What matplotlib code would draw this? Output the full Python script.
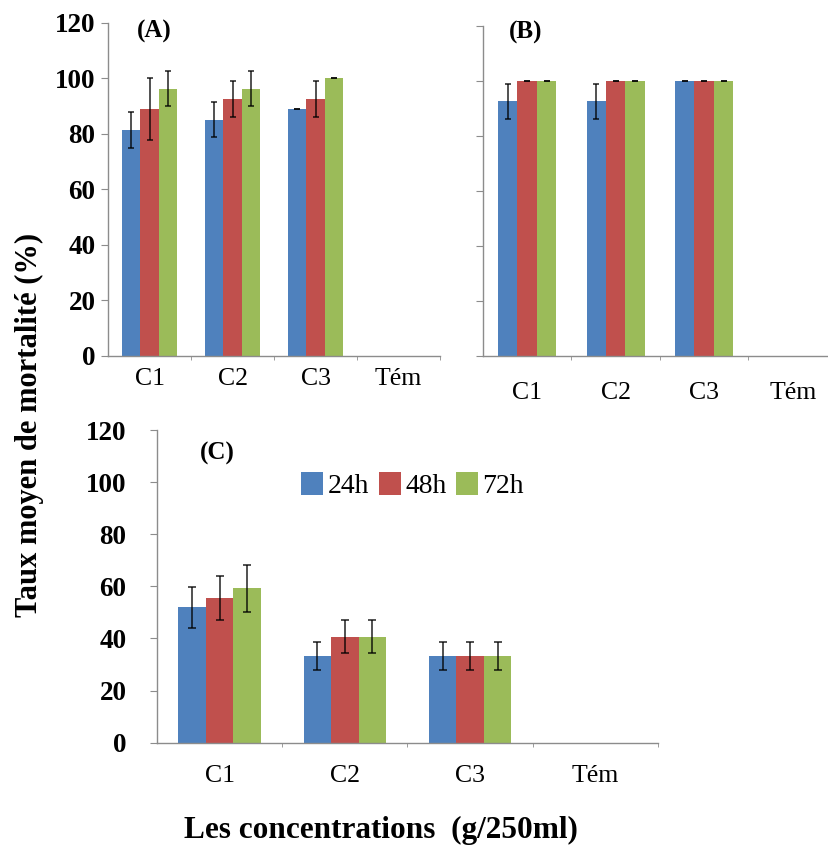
#import library
import matplotlib.pyplot as plt
import numpy as np

plt.rcParams['font.family'] = ['Liberation Serif', 'DejaVu Serif']

#define datasets
categories = ["C1", "C2", "C3", "Tém"]
durations = ["24h", "48h", "72h"]
colors = ["#4F81BD", "#C0504D", "#9BBB59"]

# (A) mean mortality (%) and error, per duration, per concentration
a_mean = {
    "24h": [81.5, 85.2, 88.9, 0],
    "48h": [88.9, 92.6, 92.6, 0],
    "72h": [96.3, 96.3, 100.0, 0],
}
a_err = {
    "24h": [6.4, 6.4, 0, 0],
    "48h": [11.1, 6.4, 6.4, 0],
    "72h": [6.4, 6.4, 0, 0],
}

# (B)
b_mean = {
    "24h": [92.6, 92.6, 100.0, 0],
    "48h": [100.0, 100.0, 100.0, 0],
    "72h": [100.0, 100.0, 100.0, 0],
}
b_err = {
    "24h": [6.4, 6.4, 0, 0],
    "48h": [0, 0, 0, 0],
    "72h": [0, 0, 0, 0],
}

# (C)
c_mean = {
    "24h": [51.9, 33.3, 33.3, 0],
    "48h": [55.6, 40.7, 33.3, 0],
    "72h": [59.3, 40.7, 33.3, 0],
}
c_err = {
    "24h": [8.0, 5.2, 5.2, 0],
    "48h": [8.4, 6.3, 5.2, 0],
    "72h": [9.0, 6.3, 5.2, 0],
}

yticks = [0, 20, 40, 60, 80, 100, 120]

#define x positions
x = np.arange(len(categories))
width = 0.22
axis_grey = "#8c8c8c"

#define fig
fig = plt.figure(figsize=(8.29, 8.47), dpi=100)
ax_a = fig.add_axes([0.1303, 0.5797, 0.4005, 0.3932])
ax_b = fig.add_axes([0.5826, 0.5797, 0.4270, 0.3896])
ax_c = fig.add_axes([0.1894, 0.1231, 0.6043, 0.3692])


def draw_panel(ax, means, errs, n_valid, show_ylabels, ylab_pad, xlab_pad, capsize):
    for i, d in enumerate(durations):
        pos = x + (i - 1) * width
        ax.bar(pos, means[d], width=width, color=colors[i], label=d, zorder=2)
        ax.errorbar(pos[:n_valid], means[d][:n_valid], yerr=errs[d][:n_valid],
                    fmt="none", ecolor="black", alpha=0.8, elinewidth=1.2,
                    capsize=capsize, capthick=1.2, zorder=3)
    ax.set_xlim(-0.5, 3.5)
    ax.set_ylim(0, 120)
    ax.set_yticks(yticks)
    if show_ylabels:
        ax.set_yticklabels([str(t) for t in yticks], fontsize=19.5, fontweight="bold")
    else:
        ax.set_yticklabels([])
    ax.set_xticks(x)
    ax.set_xticklabels(categories, fontsize=18.5)
    ax.set_xticks([0.5, 1.5, 2.5, 3.5], minor=True)
    ax.tick_params(axis="x", which="major", length=0, pad=xlab_pad)
    ax.tick_params(axis="x", which="minor", length=3, color=axis_grey)
    ax.tick_params(axis="y", length=5, color=axis_grey, pad=ylab_pad)
    for side in ["top", "right"]:
        ax.spines[side].set_visible(False)
    for side in ["left", "bottom"]:
        ax.spines[side].set_color(axis_grey)
        ax.spines[side].set_linewidth(1.0)


draw_panel(ax_a, a_mean, a_err, 3, True, 4, 9, 2.5)
draw_panel(ax_b, b_mean, b_err, 3, False, 5, 19, 2.5)
draw_panel(ax_c, c_mean, c_err, 3, True, 17, 16, 3)

#define panel labels
ax_a.text(0.14, 0.975, "(A)", transform=ax_a.transAxes, fontsize=18,
          fontweight="bold", ha="center", va="center")
ax_b.text(0.121, 0.98, "(B)", transform=ax_b.transAxes, fontsize=18,
          fontweight="bold", ha="center", va="center")
ax_c.text(0.12, 0.926, "(C)", transform=ax_c.transAxes, fontsize=18,
          fontweight="bold", ha="center", va="center")

#define legend
ax_c.legend(loc="center", bbox_to_anchor=(0.51, 0.824), ncol=3, frameon=False,
            fontsize=20, handlelength=0.8, handleheight=0.9,
            handletextpad=0.15, columnspacing=0.35, borderpad=0)

#define axis titles
fig.text(29 / 829, 1 - 425 / 847, "Taux moyen de mortalité (%)", rotation=90,
         ha="center", va="center", fontsize=22, fontweight="bold")
fig.text(381 / 829, 1 - 830 / 847, "Les concentrations  (g/250ml)",
         ha="center", va="center", fontsize=22.5, fontweight="bold")

#save
fig.savefig("out.png", dpi=100)
